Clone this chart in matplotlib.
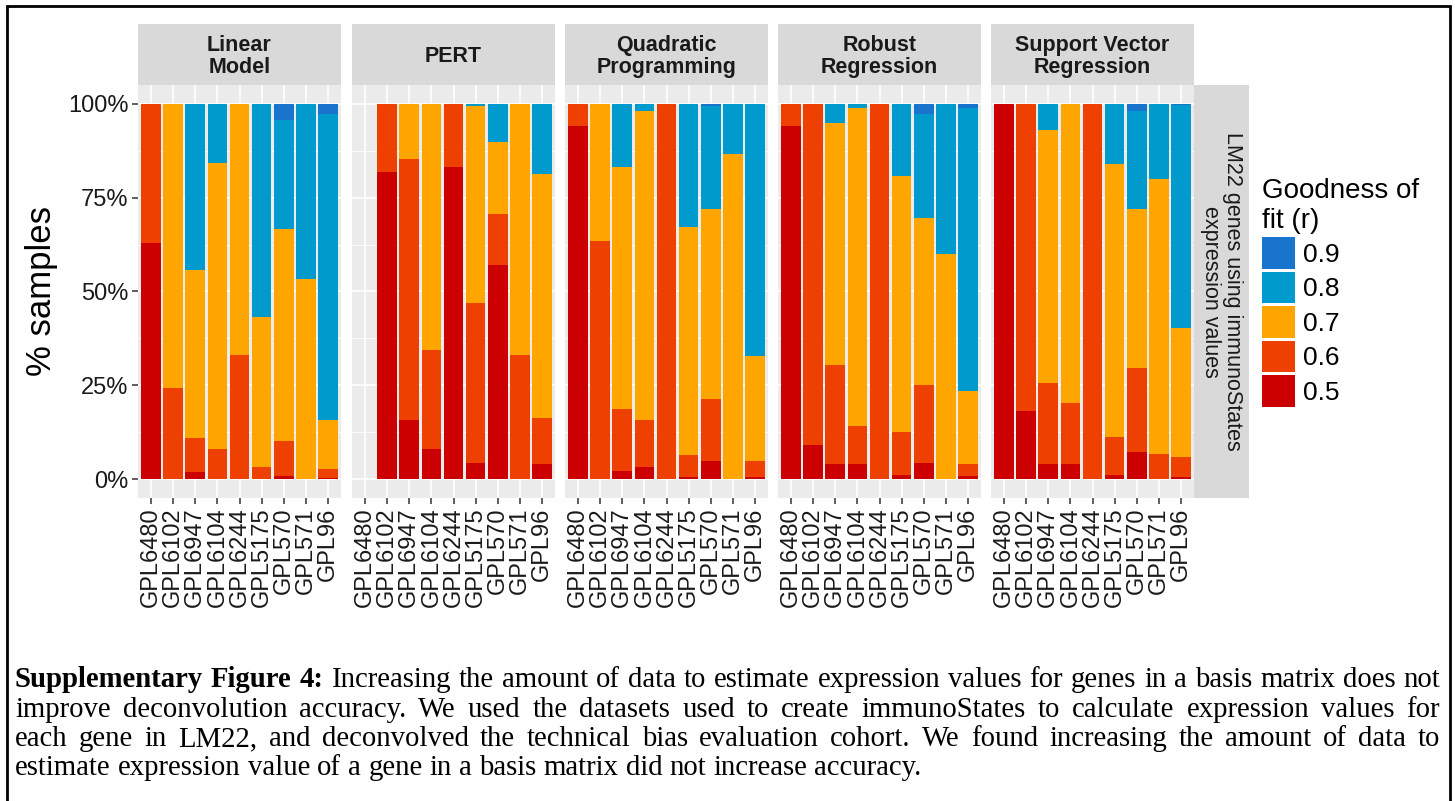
import numpy as np
import matplotlib
matplotlib.use("Agg")
import matplotlib.pyplot as plt
from matplotlib.patches import Patch, Rectangle

plt.rcParams['font.family'] = ['Liberation Sans', 'DejaVu Sans']

## DATA (percent of samples per goodness-of-fit level)

platforms = ["GPL6480", "GPL6102", "GPL6947", "GPL6104", "GPL6244",
             "GPL5175", "GPL570", "GPL571", "GPL96"]
levels = ["0.5", "0.6", "0.7", "0.8", "0.9"]
level_colors = ["#CC0000", "#EE4000", "#FFA500", "#009ACD", "#1874CD"]
methods = ["Linear\nModel", "PERT", "Quadratic\nProgramming",
           "Robust\nRegression", "Support Vector\nRegression"]

# rows: r=0.5, 0.6, 0.7, 0.8, 0.9 ; columns follow platforms
linear_model = [
    [63.0, 0.0, 1.9, 0.0, 0.0, 0.0, 0.8, 0.0, 0.3],
    [37.0, 24.2, 9.0, 8.0, 33.2, 3.2, 9.3, 0.0, 2.4],
    [0.0, 75.8, 44.9, 76.2, 66.8, 40.1, 56.5, 53.4, 13.0],
    [0.0, 0.0, 44.2, 15.8, 0.0, 56.7, 29.0, 46.6, 81.7],
    [0.0, 0.0, 0.0, 0.0, 0.0, 0.0, 4.4, 0.0, 2.6],
]
# PERT has no result for GPL6480
pert = [
    [np.nan, 81.8, 15.7, 8.0, 83.1, 4.2, 57.1, 0.0, 4.0],
    [np.nan, 18.2, 69.5, 26.5, 16.9, 42.8, 13.5, 33.2, 12.2],
    [np.nan, 0.0, 14.8, 65.5, 0.0, 52.3, 19.1, 66.8, 65.0],
    [np.nan, 0.0, 0.0, 0.0, 0.0, 0.7, 10.3, 0.0, 18.8],
    [np.nan, 0.0, 0.0, 0.0, 0.0, 0.0, 0.0, 0.0, 0.0],
]
quadratic_prog = [
    [94.2, 0.0, 2.1, 3.2, 0.0, 0.5, 4.8, 0.0, 0.5],
    [5.8, 63.5, 16.5, 12.5, 100.0, 5.9, 16.7, 0.0, 4.3],
    [0.0, 36.5, 64.5, 82.5, 0.0, 60.8, 50.4, 86.5, 28.1],
    [0.0, 0.0, 16.9, 1.8, 0.0, 32.8, 27.4, 13.5, 67.1],
    [0.0, 0.0, 0.0, 0.0, 0.0, 0.0, 0.7, 0.0, 0.0],
]
robust_reg = [
    [94.2, 9.0, 4.0, 4.0, 0.0, 1.1, 4.2, 0.0, 0.8],
    [5.8, 91.0, 26.3, 10.1, 100.0, 11.6, 20.8, 0.0, 3.2],
    [0.0, 0.0, 64.5, 84.9, 0.0, 68.0, 44.6, 60.0, 19.4],
    [0.0, 0.0, 5.2, 1.0, 0.0, 19.3, 27.8, 40.0, 75.4],
    [0.0, 0.0, 0.0, 0.0, 0.0, 0.0, 2.6, 0.0, 1.2],
]
svr = [
    [100.0, 18.3, 4.0, 4.0, 0.0, 1.1, 7.2, 0.0, 0.5],
    [0.0, 81.7, 21.5, 16.4, 100.0, 10.1, 22.5, 6.6, 5.3],
    [0.0, 0.0, 67.4, 79.6, 0.0, 72.7, 42.2, 73.3, 34.6],
    [0.0, 0.0, 7.1, 0.0, 0.0, 16.1, 26.1, 20.1, 59.2],
    [0.0, 0.0, 0.0, 0.0, 0.0, 0.0, 2.0, 0.0, 0.4],
]
method_values = [linear_model, pert, quadratic_prog, robust_reg, svr]

caption_bold = "Supplementary Figure 4:"
caption_lines = [
    "Increasing the amount of data to estimate expression values for genes in a basis matrix does not",
    "improve deconvolution accuracy. We used the datasets used to create immunoStates to calculate expression values for",
    "each gene in LM22, and deconvolved the technical bias evaluation cohort. We found increasing the amount of data to",
    "estimate expression value of a gene in a basis matrix did not increase accuracy.",
]

## FIGURE

W, H = 1455, 801
fig = plt.figure(figsize=(W / 100, H / 100), dpi=100)


def fbox(x0, y0, x1, y1):
    # pixel box (top-left origin) -> figure rect
    return [x0 / W, 1 - y1 / H, (x1 - x0) / W, (y1 - y0) / H]


panel_left = [138, 352, 565, 778, 991]
panel_w = 203
panel_top, panel_bot = 85, 498
strip_top = 24
pos = np.arange(1, len(platforms) + 1)

for i, (name, vals) in enumerate(zip(methods, method_values)):
    x0 = panel_left[i]
    ax = fig.add_axes(fbox(x0, panel_top, x0 + panel_w, panel_bot))
    ax.set_facecolor("#EBEBEB")
    bottom = np.zeros(len(platforms))
    for col, row in zip(level_colors, vals):
        h = np.nan_to_num(np.array(row, dtype=float) / 100)
        ax.bar(pos, h, width=0.9, bottom=bottom, color=col, linewidth=0, zorder=3)
        bottom += h
    ax.set_xlim(0.4, 9.6)
    ax.set_ylim(-0.05, 1.05)
    ax.set_yticks([0, 0.25, 0.5, 0.75, 1.0])
    ax.set_yticks([0.125, 0.375, 0.625, 0.875], minor=True)
    ax.set_xticks(pos)
    ax.set_xticklabels(platforms, rotation=90, fontsize=17, color="#1A1A1A")
    ax.grid(which="major", color="white", linewidth=1.2, zorder=0)
    ax.grid(which="minor", axis="y", color="white", linewidth=0.6, zorder=0)
    ax.set_axisbelow(True)
    for s in ax.spines.values():
        s.set_visible(False)
    ax.tick_params(axis="both", which="major", length=4, width=1.1, color="#333333", pad=3)
    ax.tick_params(axis="y", which="minor", length=0)
    if i == 0:
        ax.set_yticklabels(["0%", "25%", "50%", "75%", "100%"], fontsize=17, color="#1A1A1A")
    else:
        ax.tick_params(axis="y", left=False, labelleft=False)

    sax = fig.add_axes(fbox(x0, strip_top, x0 + panel_w, panel_top))
    sax.set_facecolor("#D9D9D9")
    sax.set_xticks([])
    sax.set_yticks([])
    for s in sax.spines.values():
        s.set_visible(False)
    sax.text(0.5, 0.47, name, transform=sax.transAxes, ha="center", va="center",
             fontsize=15.5, fontweight="bold", color="#1A1A1A", linespacing=1.08)

# right strip
rax = fig.add_axes(fbox(1194, panel_top, 1249, panel_bot))
rax.set_facecolor("#D9D9D9")
rax.set_xticks([])
rax.set_yticks([])
for s in rax.spines.values():
    s.set_visible(False)
rax.text(0.5, 0.5, "LM22 genes using immunoStates\nexpression values", transform=rax.transAxes,
         rotation=270, ha="center", va="center", fontsize=15.5, color="#1A1A1A", linespacing=1.05)

# y axis title
fig.text(41 / W, 1 - 291 / H, "% samples", rotation=90, ha="center", va="center",
         fontsize=25, color="black")

# legend
handles = [Patch(facecolor=c, edgecolor="none", label=l)
           for l, c in zip(levels[::-1], level_colors[::-1])]
fig.legend(handles=handles, title="Goodness of\nfit (r)", loc="upper left",
           bbox_to_anchor=(1262 / W, 1 - 178 / H), frameon=False, fontsize=19,
           title_fontsize=20, handlelength=1.25, handleheight=1.45,
           labelspacing=0.12, handletextpad=0.3, borderaxespad=0, borderpad=0,
           alignment="left")

# border around the figure
fig.patches.append(Rectangle((7 / W, -0.05), (1450 - 7) / W, 1 - 6 / H + 0.05,
                             transform=fig.transFigure, fill=False, ec="black", lw=2))

## CAPTION (justified lines)

renderer = fig.canvas.get_renderer()
serif = ["Liberation Serif", "DejaVu Serif"]
cap_left, cap_right = 15, 1440
baselines = [687, 717, 746, 775]


def word_items(i):
    items = []
    if i == 0:
        items += [(w, "bold") for w in caption_bold.split()]
    items += [(w, "normal") for w in caption_lines[i].split()]
    return items


def measure(items, fs):
    widths = []
    for w, wt in items:
        t = fig.text(0, 0, w, fontsize=fs, family=serif, fontweight=wt)
        widths.append(t.get_window_extent(renderer).width)
        t.remove()
    return widths


fs = 16
sp = 0.25 * fs * 100 / 72
items0 = word_items(0)
w0 = measure(items0, fs)
natural = sum(w0) + sp * (len(w0) - 1)
fs = fs * (cap_right - cap_left - 12) / natural

for i in range(len(caption_lines)):
    items = word_items(i)
    widths = measure(items, fs)
    if i < len(caption_lines) - 1:
        gap = (cap_right - cap_left - sum(widths)) / (len(items) - 1)
    else:
        gap = 0.25 * fs * 100 / 72
    x = cap_left
    for (w, wt), wd in zip(items, widths):
        fig.text(x / W, 1 - baselines[i] / H, w, fontsize=fs, family=serif,
                 fontweight=wt, va="baseline", ha="left", color="black")
        x += wd + gap

fig.savefig("out.png", dpi=100)
